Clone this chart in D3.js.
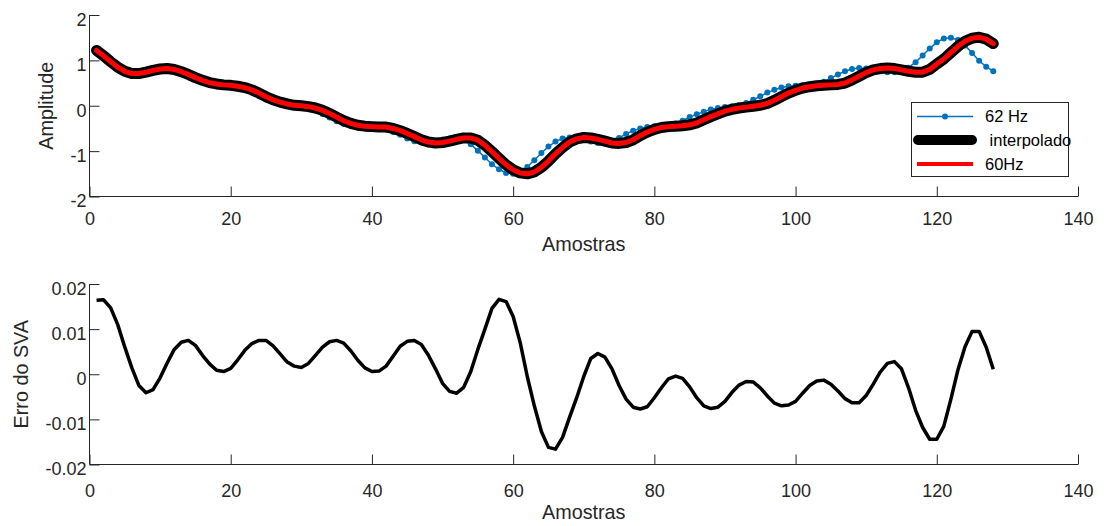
<!DOCTYPE html>
<html>
<head>
<meta charset="utf-8">
<script src="https://cdn.jsdelivr.net/npm/d3@7/dist/d3.min.js"></script>
<style>
  html, body { margin: 0; padding: 0; background: #fff; }
  svg { display: block; font-family: "Liberation Sans", Arial, Helvetica, sans-serif; }
</style>
</head>
<body>
<svg id="chart" width="1107" height="526"></svg>
<script>
// Sample index (1..128)
const amostras = d3.range(1, 129);

// Sinal amostrado a 62 Hz
const sinal62Hz = [
  1.22, 1.09, 0.96, 0.84, 0.75, 0.71, 0.72, 0.75, 0.79, 0.81,
  0.81, 0.78, 0.72, 0.66, 0.59, 0.53, 0.49, 0.47, 0.45, 0.44,
  0.41, 0.36, 0.30, 0.22, 0.14, 0.09, 0.04, 0.01, 0.00, -0.02,
  -0.05, -0.10, -0.18, -0.26, -0.34, -0.40, -0.43, -0.45, -0.46, -0.47,
  -0.48, -0.52, -0.58, -0.64, -0.72, -0.78, -0.81, -0.81, -0.79, -0.75,
  -0.72, -0.71, -0.75, -0.85, -0.99, -1.14, -1.29, -1.40, -1.48, -1.50,
  -1.46, -1.35, -1.20, -1.04, -0.90, -0.79, -0.72, -0.70, -0.72, -0.75,
  -0.79, -0.82, -0.82, -0.78, -0.71, -0.62, -0.55, -0.50, -0.47, -0.45,
  -0.44, -0.43, -0.39, -0.33, -0.25, -0.19, -0.13, -0.08, -0.05, -0.03,
  -0.01, 0.01, 0.06, 0.13, 0.21, 0.29, 0.35, 0.40, 0.43, 0.44,
  0.45, 0.46, 0.48, 0.53, 0.61, 0.69, 0.76, 0.81, 0.83, 0.82,
  0.80, 0.77, 0.74, 0.74, 0.76, 0.84, 0.96, 1.11, 1.26, 1.40,
  1.48, 1.50, 1.45, 1.33, 1.16, 0.99, 0.86, 0.76
];

// Sinal interpolado
const interpolado = [
  1.22, 1.10, 0.97, 0.85, 0.76, 0.71, 0.71, 0.74, 0.78, 0.81,
  0.82, 0.80, 0.75, 0.69, 0.62, 0.56, 0.51, 0.48, 0.46, 0.45,
  0.43, 0.40, 0.35, 0.28, 0.20, 0.13, 0.08, 0.04, 0.01, 0.00,
  -0.02, -0.05, -0.10, -0.17, -0.25, -0.33, -0.39, -0.43, -0.45, -0.46,
  -0.47, -0.47, -0.50, -0.55, -0.61, -0.68, -0.75, -0.80, -0.82, -0.81,
  -0.78, -0.74, -0.71, -0.71, -0.76, -0.87, -1.01, -1.16, -1.30, -1.41,
  -1.48, -1.50, -1.46, -1.36, -1.22, -1.06, -0.92, -0.80, -0.73, -0.70,
  -0.71, -0.74, -0.78, -0.82, -0.83, -0.81, -0.75, -0.66, -0.58, -0.52,
  -0.48, -0.46, -0.45, -0.44, -0.42, -0.38, -0.31, -0.24, -0.18, -0.12,
  -0.08, -0.05, -0.03, -0.01, 0.01, 0.05, 0.12, 0.20, 0.28, 0.34,
  0.39, 0.42, 0.44, 0.45, 0.46, 0.47, 0.50, 0.57, 0.65, 0.73,
  0.79, 0.82, 0.83, 0.82, 0.79, 0.76, 0.74, 0.74, 0.80, 0.92,
  1.03, 1.17, 1.31, 1.42, 1.49, 1.51, 1.47, 1.37
];

// Sinal a 60 Hz
const sinal60Hz = [
  1.22, 1.10, 0.97, 0.85, 0.76, 0.71, 0.71, 0.74, 0.78, 0.81,
  0.82, 0.80, 0.75, 0.69, 0.62, 0.56, 0.51, 0.48, 0.46, 0.45,
  0.43, 0.40, 0.35, 0.28, 0.20, 0.13, 0.08, 0.04, 0.01, 0.00,
  -0.02, -0.05, -0.10, -0.17, -0.25, -0.33, -0.39, -0.43, -0.45, -0.46,
  -0.47, -0.47, -0.50, -0.55, -0.61, -0.68, -0.75, -0.80, -0.82, -0.81,
  -0.78, -0.74, -0.71, -0.71, -0.76, -0.87, -1.01, -1.16, -1.30, -1.41,
  -1.48, -1.50, -1.46, -1.36, -1.22, -1.06, -0.92, -0.80, -0.73, -0.70,
  -0.71, -0.74, -0.78, -0.82, -0.83, -0.81, -0.75, -0.66, -0.58, -0.52,
  -0.48, -0.46, -0.45, -0.44, -0.42, -0.38, -0.31, -0.24, -0.18, -0.12,
  -0.08, -0.05, -0.03, -0.01, 0.01, 0.05, 0.12, 0.20, 0.28, 0.34,
  0.39, 0.42, 0.44, 0.45, 0.46, 0.47, 0.50, 0.57, 0.65, 0.73,
  0.79, 0.82, 0.83, 0.82, 0.79, 0.76, 0.74, 0.74, 0.80, 0.92,
  1.03, 1.17, 1.31, 1.42, 1.49, 1.51, 1.47, 1.37
];

// Erro do SVA por amostra
const erroSVA = [
  0.0164, 0.0165, 0.0147, 0.0110, 0.0060, 0.0014, -0.0025, -0.0041, -0.0034, -0.0008,
  0.0025, 0.0055, 0.0071, 0.0075, 0.0064, 0.0042, 0.0023, 0.0009, 0.0006, 0.0013,
  0.0032, 0.0053, 0.0068, 0.0075, 0.0075, 0.0063, 0.0045, 0.0027, 0.0018, 0.0015,
  0.0024, 0.0042, 0.0060, 0.0072, 0.0075, 0.0069, 0.0052, 0.0031, 0.0014, 0.0006,
  0.0007, 0.0018, 0.0040, 0.0062, 0.0073, 0.0075, 0.0066, 0.0042, 0.0012, -0.0020,
  -0.0038, -0.0042, -0.0029, 0.0006, 0.0055, 0.0100, 0.0146, 0.0166, 0.0161, 0.0128,
  0.0070, -0.0005, -0.0070, -0.0127, -0.0162, -0.0166, -0.0140, -0.0095, -0.0052, -0.0005,
  0.0035, 0.0046, 0.0038, 0.0012, -0.0025, -0.0055, -0.0073, -0.0077, -0.0072, -0.0052,
  -0.0030, -0.0010, -0.0004, -0.0009, -0.0028, -0.0052, -0.0070, -0.0076, -0.0073, -0.0060,
  -0.0040, -0.0024, -0.0016, -0.0017, -0.0030, -0.0048, -0.0064, -0.0070, -0.0068, -0.0060,
  -0.0042, -0.0025, -0.0015, -0.0013, -0.0022, -0.0037, -0.0054, -0.0063, -0.0063, -0.0047,
  -0.0022, 0.0005, 0.0024, 0.0028, 0.0012, -0.0030, -0.0080, -0.0118, -0.0144, -0.0144,
  -0.0115, -0.0055, 0.0010, 0.0061, 0.0095, 0.0095, 0.0060, 0.0011
];

// Axis ticks
const xTicks = [0, 20, 40, 60, 80, 100, 120, 140];
const yTicksTop = [-2, -1, 0, 1, 2];
const yTicksBottom = [-0.02, -0.01, 0, 0.01, 0.02];

// Legend entries
const legendLabels = ["62 Hz", " interpolado", "60Hz"];

const svg = d3.select("#chart");
const axisColor = "#262626";
const tickFont = 18;
const labelFont = 19.8;

const left = 89.5, right = 1078;

function drawAxes(g, x, y, yTicks, yFmt, xLabel, yLabel, yLabelX, xTickY) {
  const [y0, y1] = y.range();   // y0 bottom, y1 top
  const tickLen = 10;

  // x axis: ticks pointing inward
  const xAxis = d3.axisBottom(x).tickValues(xTicks).tickSize(0).tickPadding(0).tickFormat(d => d);
  const gx = g.append("g").attr("transform", `translate(0,${y0})`).call(xAxis);
  gx.select(".domain").remove();
  gx.selectAll(".tick line").remove();
  gx.selectAll(".tick text")
    .attr("y", xTickY).attr("dy", null)
    .attr("fill", axisColor).attr("font-size", tickFont)
    .attr("font-family", "Liberation Sans, Arial, sans-serif");
  gx.selectAll(".tick").append("line")
    .attr("x1", 0).attr("x2", 0).attr("y1", 0).attr("y2", -tickLen)
    .attr("stroke", axisColor).attr("stroke-width", 1);

  const yAxis = d3.axisLeft(y).tickValues(yTicks).tickSize(0).tickPadding(0).tickFormat(yFmt);
  const gy = g.append("g").attr("transform", `translate(${x.range()[0]},0)`).call(yAxis);
  gy.select(".domain").remove();
  gy.selectAll(".tick text")
    .attr("x", -3).attr("dy", "0.58em")
    .attr("fill", axisColor).attr("font-size", tickFont)
    .attr("font-family", "Liberation Sans, Arial, sans-serif");
  gy.selectAll(".tick").append("line")
    .attr("x1", 0).attr("x2", tickLen).attr("y1", 0).attr("y2", 0)
    .attr("stroke", axisColor).attr("stroke-width", 1);

  // axis lines
  g.append("line")
    .attr("x1", x.range()[0]).attr("x2", x.range()[1]).attr("y1", y0).attr("y2", y0)
    .attr("stroke", axisColor).attr("stroke-width", 1);
  g.append("line")
    .attr("x1", x.range()[0]).attr("x2", x.range()[0]).attr("y1", y0).attr("y2", y1)
    .attr("stroke", axisColor).attr("stroke-width", 1);

  // labels
  g.append("text")
    .attr("x", (x.range()[0] + x.range()[1]) / 2).attr("y", y0 + 54)
    .attr("text-anchor", "middle").attr("fill", axisColor).attr("font-size", labelFont)
    .text(xLabel);
  g.append("text")
    .attr("transform", `translate(${yLabelX},${(y0 + y1) / 2}) rotate(-90)`)
    .attr("text-anchor", "middle").attr("fill", axisColor).attr("font-size", labelFont)
    .text(yLabel);
}

const fmtMinus = d => (d < 0 ? "-" : "") + d3.format("")(Math.abs(+d.toFixed(4)));

// ---------- Top panel ----------
const xTop = d3.scaleLinear().domain([0, 140]).range([left, right]);
const yTop = d3.scaleLinear().domain([-2, 2]).range([196.5, 15]);
const gTop = svg.append("g");

const lineTop = ys => d3.line()
  .x((d, i) => xTop(amostras[i]))
  .y(d => yTop(d))(ys);

gTop.append("path")
  .attr("d", lineTop(sinal62Hz))
  .attr("fill", "none").attr("stroke", "#0072BD").attr("stroke-width", 1.5);
gTop.append("g").selectAll("circle").data(sinal62Hz).join("circle")
  .attr("cx", (d, i) => xTop(amostras[i]))
  .attr("cy", d => yTop(d))
  .attr("r", 3).attr("fill", "#0072BD");
gTop.append("path")
  .attr("d", lineTop(interpolado))
  .attr("fill", "none").attr("stroke", "#000").attr("stroke-width", 11)
  .attr("stroke-linejoin", "round").attr("stroke-linecap", "round");
gTop.append("path")
  .attr("d", lineTop(sinal60Hz))
  .attr("fill", "none").attr("stroke", "#FF0000").attr("stroke-width", 5)
  .attr("stroke-linejoin", "round").attr("stroke-linecap", "round");

drawAxes(gTop, xTop, yTop, yTicksTop, fmtMinus, "Amostras", "Amplitude", 53, 28);

// Legend
const leg = gTop.append("g");
leg.append("rect")
  .attr("x", 911.5).attr("y", 102.5).attr("width", 157).attr("height", 74)
  .attr("fill", "#fff").attr("stroke", axisColor).attr("stroke-width", 1);
const rowY = [116.5, 140, 164];
const lx1 = 917, lx2 = 973;
// 62 Hz
leg.append("line").attr("x1", lx1).attr("x2", lx2).attr("y1", rowY[0]).attr("y2", rowY[0])
  .attr("stroke", "#0072BD").attr("stroke-width", 1.5);
leg.append("circle").attr("cx", (lx1 + lx2) / 2).attr("cy", rowY[0]).attr("r", 3).attr("fill", "#0072BD");
// interpolado
leg.append("line").attr("x1", lx1 + 1).attr("x2", lx2 - 1).attr("y1", rowY[1]).attr("y2", rowY[1])
  .attr("stroke", "#000").attr("stroke-width", 10).attr("stroke-linecap", "round");
// 60Hz
leg.append("line").attr("x1", lx1).attr("x2", lx2).attr("y1", rowY[2]).attr("y2", rowY[2])
  .attr("stroke", "#FF0000").attr("stroke-width", 4);
leg.selectAll("text.lbl").data(legendLabels).join("text")
  .attr("class", "lbl")
  .attr("x", 985).attr("y", (d, i) => rowY[i]).attr("dy", "0.35em")
  .attr("font-size", 16.5).attr("fill", "#000")
  .attr("xml:space", "preserve").style("white-space", "pre")
  .text(d => d);

// ---------- Bottom panel ----------
const xBot = d3.scaleLinear().domain([0, 140]).range([left, right]);
const yBot = d3.scaleLinear().domain([-0.02, 0.02]).range([464.5, 284]);
const gBot = svg.append("g");

gBot.append("path")
  .attr("d", d3.line().x((d, i) => xBot(amostras[i])).y(d => yBot(d))(erroSVA))
  .attr("fill", "none").attr("stroke", "#000").attr("stroke-width", 3.5)
  .attr("stroke-linejoin", "round");

drawAxes(gBot, xBot, yBot, yTicksBottom, fmtMinus, "Amostras", "Erro do SVA", 28, 32);
</script>
</body>
</html>
